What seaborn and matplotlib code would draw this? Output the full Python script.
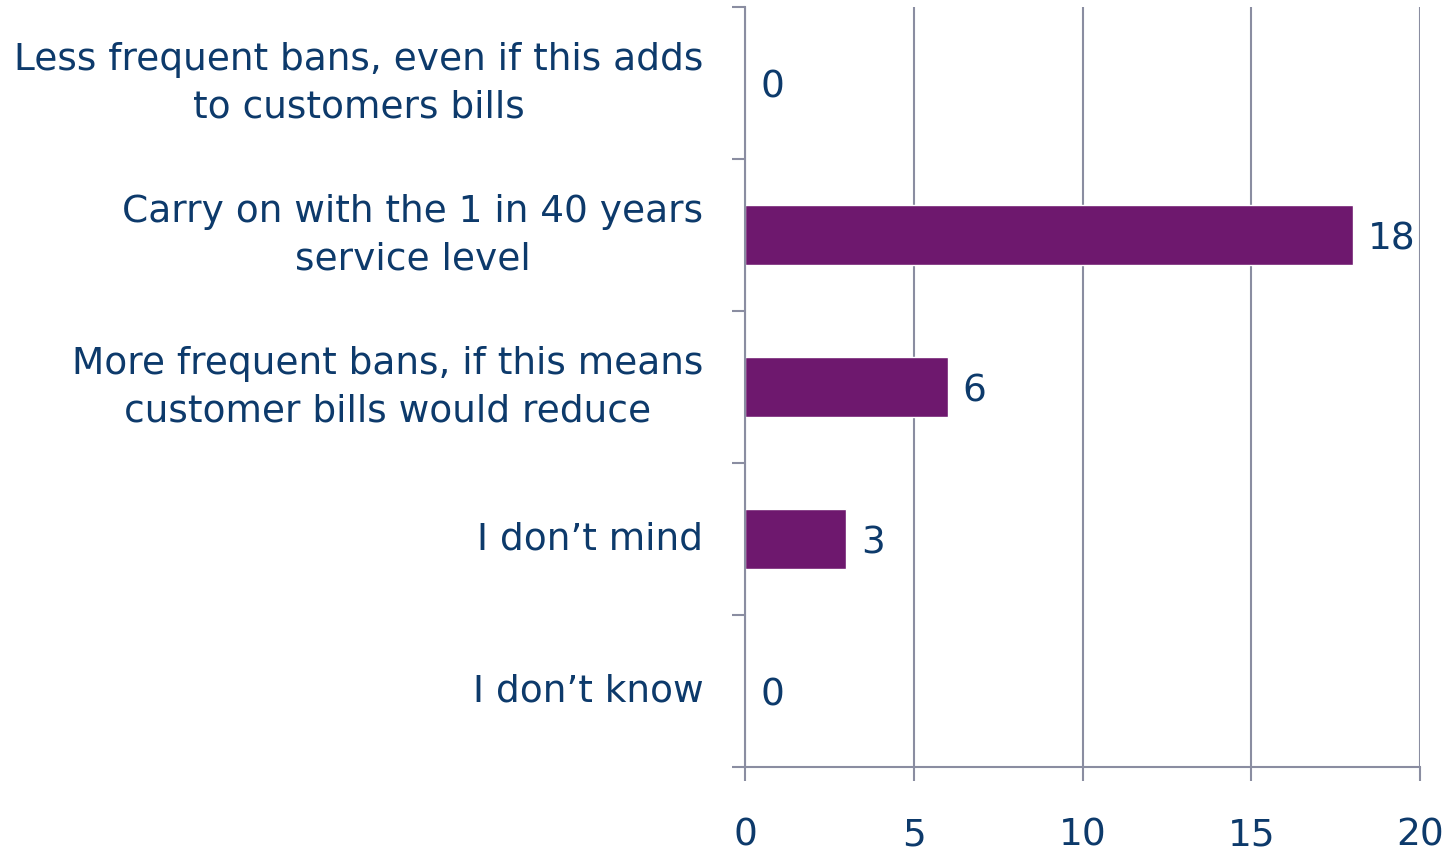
import matplotlib
matplotlib.use("Agg")
import matplotlib.pyplot as plt
import seaborn as sns
import pandas as pd
import numpy as np

categories = [
    "Less frequent bans, even if this adds\nto customers bills",
    "Carry on with the 1 in 40 years\nservice level",
    "More frequent bans, if this means\ncustomer bills would reduce",
    "I don\u2019t mind",
    "I don\u2019t know",
]
counts = [0, 18, 6, 3, 0]
x_ticks = [0, 5, 10, 15, 20]

bar_color = "#6E186E"
text_color = "#0D3A6B"
axis_color = "#8A8DA1"
font_size = 27

sns.set_theme(style="white")
plt.rcParams["font.family"] = ["DejaVu Sans"]

df = pd.DataFrame({"category": categories, "count": counts})

fig = plt.figure(figsize=(14.49, 8.54), dpi=100)
ax = fig.add_axes([745 / 1449, 86 / 854, 675 / 1449, 760 / 854])

sns.barplot(data=df, y="category", x="count", orient="h", color=bar_color,
            width=0.4, saturation=1, ax=ax)

ax.set_xlim(0, 20)
ax.set_ylim(len(categories) - 0.5, -0.5)
ax.set_xticks(x_ticks)
ax.set_xticklabels([str(t) for t in x_ticks])
ax.set_xlabel("")
ax.set_ylabel("")

# vertical gridlines
ax.grid(axis="x", color=axis_color, linewidth=1.5)
ax.set_axisbelow(True)

for side in ["top", "right"]:
    ax.spines[side].set_visible(False)
for side in ["left", "bottom"]:
    ax.spines[side].set_color(axis_color)
    ax.spines[side].set_linewidth(1.5)

# category boundary ticks on the left
ax.set_yticks(np.arange(-0.5, len(categories), 1.0), minor=True)
ax.tick_params(axis="y", which="minor", length=9.5, width=1.5, color=axis_color,
               direction="out", left=True)
ax.tick_params(axis="y", which="major", length=0, pad=30, labelsize=font_size,
               labelcolor=text_color)
for lbl in ax.get_yticklabels():
    lbl.set_multialignment("center")
    lbl.set_linespacing(1.4)
    lbl.set_verticalalignment("center")

ax.tick_params(axis="x", which="major", length=10, width=1.5, color=axis_color,
               direction="out", bottom=True, pad=26, labelsize=font_size,
               labelcolor=text_color)

for i, v in enumerate(counts):
    ax.annotate(str(v), xy=(v, i), xytext=(11, -2.5), textcoords="offset points",
                ha="left", va="center", fontsize=font_size, color=text_color)

fig.savefig("out.png", dpi=100)
